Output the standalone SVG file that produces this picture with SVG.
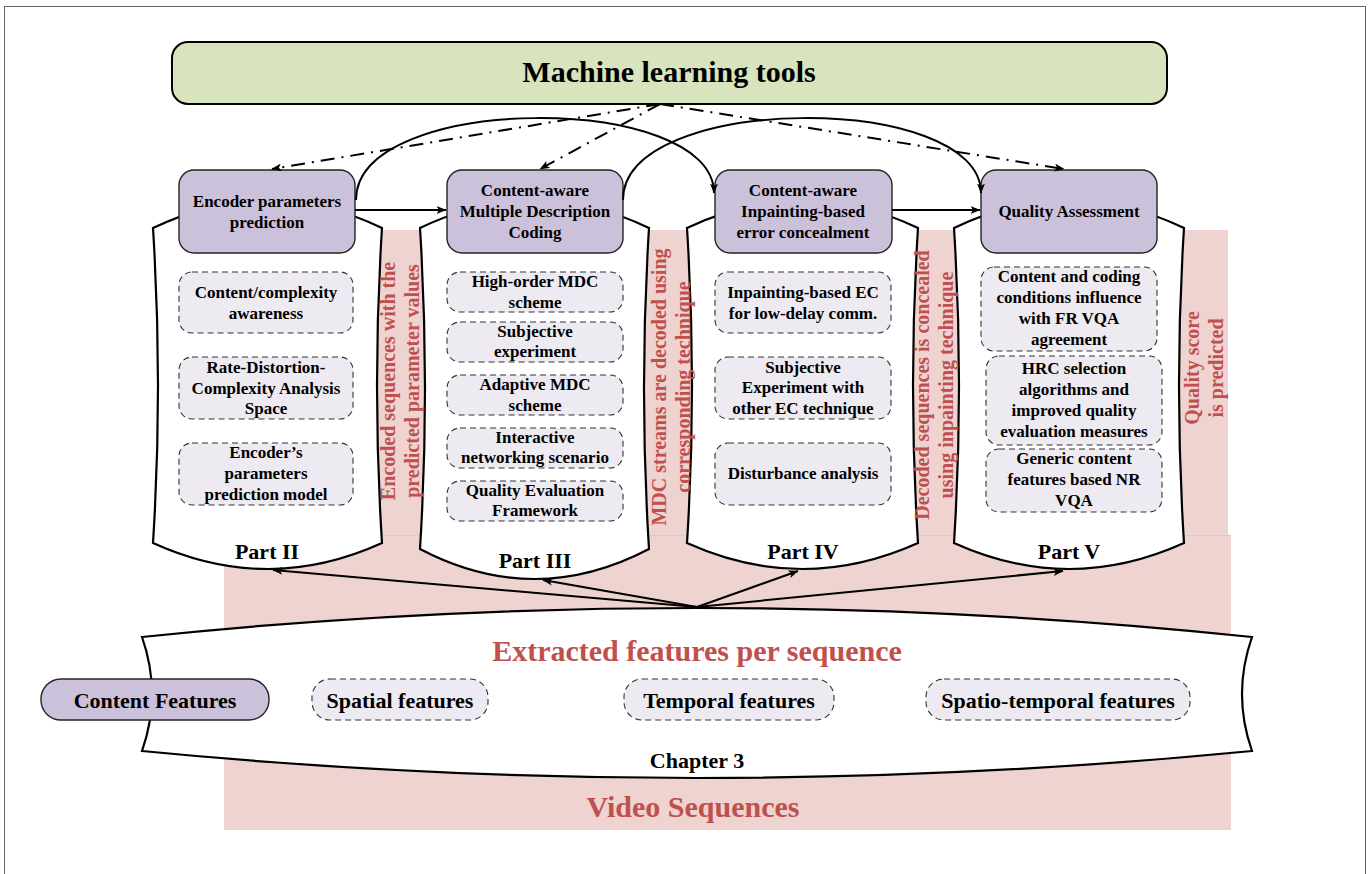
<svg xmlns="http://www.w3.org/2000/svg" width="1371" height="874" viewBox="0 0 1371 874">
<style>
.t{font-family:"Liberation Serif","Times New Roman",serif;font-weight:bold;fill:#000;text-anchor:middle}
.s17{font-size:17px}
.s22{font-size:22px}
.s30{font-size:30px}
.red{fill:#c0504d}
.v{font-size:20px}
.cont{fill:#fff;stroke:#000;stroke-width:2.2}
.head{fill:#ccc1da;stroke:#222;stroke-width:1.4}
.sub{fill:#edeaf1;stroke:#333;stroke-width:1.1;stroke-dasharray:6 4}
.pink{fill:#efd3d0}
.ln{fill:none;stroke:#000;stroke-width:2}
.dd{fill:none;stroke:#000;stroke-width:2;stroke-dasharray:14 7 2 7}
</style>
<defs>
<marker id="ah" viewBox="0 0 10 8" refX="9.5" refY="4" markerWidth="10" markerHeight="8" markerUnits="userSpaceOnUse" orient="auto">
<path d="M0,0 L10,4 L0,8 L2.5,4 Z" fill="#000"/>
</marker>
</defs>
<rect x="4.5" y="6.5" width="1361" height="880" fill="#fff" stroke="#666" stroke-width="1"/>
<g id="background">
<rect class="pink" x="224" y="230" width="1004" height="305"/>
<rect class="pink" x="224" y="535" width="1007" height="295"/>
<line x1="224" y1="535.5" x2="1231" y2="535.5" stroke="#e3c2bf" stroke-width="0.8"/>
</g>
<g id="ml-tools">
<rect x="172" y="42" width="995" height="62" rx="16" fill="#d7e4bd" stroke="#000" stroke-width="2"/>
<text class="t s30" x="669" y="82">Machine learning tools</text>
</g>
<g id="part2">
<path class="cont" d="M153,228 Q267.5,173 382,228 Q372,385.5 382,543 Q267.5,595 153,543 Q163,385.5 153,228 Z"/>
<rect class="head" x="179" y="170" width="176" height="83" rx="15"/>
<text class="t s17" x="267" y="207">Encoder parameters</text>
<text class="t s17" x="267" y="228">prediction</text>
<rect class="sub" x="179" y="272" width="174" height="61" rx="13"/>
<text class="t s17" x="266" y="298">Content/complexity</text>
<text class="t s17" x="266" y="319">awareness</text>
<rect class="sub" x="179" y="357" width="174" height="62" rx="13"/>
<text class="t s17" x="266" y="373">Rate-Distortion-</text>
<text class="t s17" x="266" y="394">Complexity Analysis</text>
<text class="t s17" x="266" y="414">Space</text>
<rect class="sub" x="179" y="443" width="174" height="62" rx="13"/>
<text class="t s17" x="266" y="458">Encoder’s</text>
<text class="t s17" x="266" y="479">parameters</text>
<text class="t s17" x="266" y="500">prediction model</text>
<text class="t s22" x="267" y="559">Part II</text>
</g>
<g id="part3">
<path class="cont" d="M420,228 Q534.5,173 649,228 Q639,388.5 649,549 Q534.5,609 420,549 Q430,388.5 420,228 Z"/>
<rect class="head" x="447" y="170" width="176" height="83" rx="15"/>
<text class="t s17" x="535" y="196">Content-aware</text>
<text class="t s17" x="535" y="217">Multiple Description</text>
<text class="t s17" x="535" y="238">Coding</text>
<rect class="sub" x="447" y="272" width="176" height="40" rx="13"/>
<text class="t s17" x="535" y="287">High-order MDC</text>
<text class="t s17" x="535" y="308">scheme</text>
<rect class="sub" x="447" y="322" width="176" height="40" rx="13"/>
<text class="t s17" x="535" y="337">Subjective</text>
<text class="t s17" x="535" y="357">experiment</text>
<rect class="sub" x="447" y="375" width="176" height="40" rx="13"/>
<text class="t s17" x="535" y="390">Adaptive MDC</text>
<text class="t s17" x="535" y="411">scheme</text>
<rect class="sub" x="447" y="428" width="176" height="40" rx="13"/>
<text class="t s17" x="535" y="443">Interactive</text>
<text class="t s17" x="535" y="463">networking scenario</text>
<rect class="sub" x="447" y="481" width="176" height="40" rx="13"/>
<text class="t s17" x="535" y="496">Quality Evaluation</text>
<text class="t s17" x="535" y="516">Framework</text>
<text class="t s22" x="535" y="568">Part III</text>
</g>
<g id="part4">
<path class="cont" d="M687,228 Q802.5,173 918,228 Q908,385.5 918,543 Q802.5,595 687,543 Q697,385.5 687,228 Z"/>
<rect class="head" x="715" y="170" width="177" height="83" rx="15"/>
<text class="t s17" x="803" y="196">Content-aware</text>
<text class="t s17" x="803" y="217">Inpainting-based</text>
<text class="t s17" x="803" y="238">error concealment</text>
<rect class="sub" x="715" y="272" width="176" height="61" rx="13"/>
<text class="t s17" x="803" y="298">Inpainting-based EC</text>
<text class="t s17" x="803" y="319">for low-delay comm.</text>
<rect class="sub" x="715" y="357" width="176" height="62" rx="13"/>
<text class="t s17" x="803" y="373">Subjective</text>
<text class="t s17" x="803" y="393">Experiment with</text>
<text class="t s17" x="803" y="414">other EC technique</text>
<rect class="sub" x="715" y="443" width="176" height="62" rx="13"/>
<text class="t s17" x="803" y="479">Disturbance analysis</text>
<text class="t s22" x="803" y="559">Part IV</text>
</g>
<g id="part5">
<path class="cont" d="M954,228 Q1069,173 1184,228 Q1174,385.5 1184,543 Q1069,595 954,543 Q964,385.5 954,228 Z"/>
<rect class="head" x="981" y="170" width="176" height="83" rx="15"/>
<text class="t s17" x="1069" y="217">Quality Assessment</text>
<rect class="sub" x="981" y="267" width="176" height="84" rx="13"/>
<text class="t s17" x="1069" y="282">Content and coding</text>
<text class="t s17" x="1069" y="303">conditions influence</text>
<text class="t s17" x="1069" y="324">with FR VQA</text>
<text class="t s17" x="1069" y="345">agreement</text>
<rect class="sub" x="986" y="356" width="176" height="89" rx="13"/>
<text class="t s17" x="1074" y="374">HRC selection</text>
<text class="t s17" x="1074" y="395">algorithms and</text>
<text class="t s17" x="1074" y="416">improved quality</text>
<text class="t s17" x="1074" y="437">evaluation measures</text>
<rect class="sub" x="986" y="449" width="176" height="63" rx="13"/>
<text class="t s17" x="1074" y="464">Generic content</text>
<text class="t s17" x="1074" y="485">features based NR</text>
<text class="t s17" x="1074" y="506">VQA</text>
<text class="t s22" x="1069" y="559">Part V</text>
</g>
<g id="flow-labels">
<text class="t v red" transform="translate(395,381) rotate(-90)">Encoded sequences with the</text>
<text class="t v red" transform="translate(419,381) rotate(-90)">predicted parameter values</text>
<text class="t v red" transform="translate(666,387) rotate(-90)">MDC streams are decoded using</text>
<text class="t v red" transform="translate(690,387) rotate(-90)">corresponding technique</text>
<text class="t v red" transform="translate(929,385) rotate(-90)">Decoded sequences is concealed</text>
<text class="t v red" transform="translate(953,385) rotate(-90)">using inpainting technique</text>
<text class="t v red" transform="translate(1199,368) rotate(-90)">Quality score</text>
<text class="t v red" transform="translate(1223,368) rotate(-90)">is predicted</text>
</g>
<g id="chapter3">
<path class="cont" d="M142,637 Q697,579 1252,637 Q1232,694 1252,751 Q697,805 142,751 Q162,694 142,637 Z"/>
<text class="t s30 red" x="697" y="661">Extracted features per sequence</text>
<rect class="head" x="41" y="679" width="228" height="41" rx="20"/>
<text class="t s22" x="155" y="708">Content Features</text>
<rect class="sub" x="312" y="679" width="176" height="41" rx="18"/>
<text class="t s22" x="400" y="708">Spatial features</text>
<rect class="sub" x="624" y="679" width="210" height="41" rx="18"/>
<text class="t s22" x="729" y="708">Temporal features</text>
<rect class="sub" x="926" y="679" width="264" height="41" rx="18"/>
<text class="t s22" x="1058" y="708">Spatio-temporal features</text>
<text class="t s22" x="697" y="768">Chapter 3</text>
</g>
<g id="video-sequences">
<text class="t s30 red" x="693" y="817">Video Sequences</text>
</g>
<g id="connectors">
<path class="dd" d="M660,104 L272,169" marker-end="url(#ah)"/>
<path class="dd" d="M660,104 L540,169" marker-end="url(#ah)"/>
<path class="dd" d="M660,104 L1064,169" marker-end="url(#ah)"/>
<path class="ln" d="M356,200 C356,92 714,92 714,193" marker-end="url(#ah)"/>
<path class="ln" d="M623,200 C623,92 981,92 981,193" marker-end="url(#ah)"/>
<path class="ln" d="M355,210 L446,210" marker-end="url(#ah)"/>
<path class="ln" d="M892,210 L980,210" marker-end="url(#ah)"/>
<path class="ln" d="M697,607 L273,570" marker-end="url(#ah)"/>
<path class="ln" d="M697,607 L543,580" marker-end="url(#ah)"/>
<path class="ln" d="M697,607 L798,571" marker-end="url(#ah)"/>
<path class="ln" d="M697,607 L1063,571" marker-end="url(#ah)"/>
</g>
</svg>
